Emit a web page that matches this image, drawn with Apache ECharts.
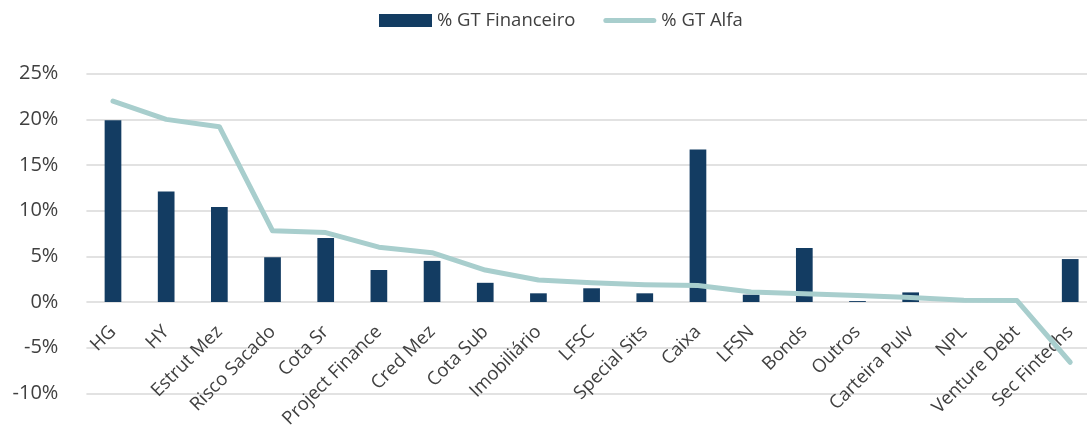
<!DOCTYPE html>
<html>
<head>
<meta charset="utf-8">
<script src="https://cdn.jsdelivr.net/npm/echarts@6/dist/echarts.min.js"></script>
<style>
  html, body { margin: 0; padding: 0; background: #ffffff; }
  #chart { width: 1087px; height: 430px; }
</style>
</head>
<body>
<div id="chart"></div>
<script>
// Strategy categories
const categories = [
  'HG', 'HY', 'Estrut Mez', 'Risco Sacado', 'Cota Sr', 'Project Finance',
  'Cred Mez', 'Cota Sub', 'Imobiliário', 'LFSC', 'Special Sits', 'Caixa',
  'LFSN', 'Bonds', 'Outros', 'Carteira Pulv', 'NPL', 'Venture Debt', 'Sec Fintechs'
];

// % GT Financeiro (bars), in percent
const gtFinanceiro = [
  19.9, 12.1, 10.4, 4.9, 7.0, 3.5,
  4.5, 2.1, 0.95, 1.5, 0.95, 16.7,
  0.8, 5.9, 0.1, 1.05, 0.0, 0.0, 4.7
];

// % GT Alfa (line), in percent
const gtAlfa = [
  22.0, 20.0, 19.2, 7.8, 7.6, 6.0,
  5.4, 3.5, 2.4, 2.1, 1.9, 1.8,
  1.1, 0.9, 0.7, 0.5, 0.2, 0.15, -6.6
];

// Value axis ticks
const yTicks = { min: -10, max: 25, interval: 5 };

const fontFamily = '"Open Sans", Lato, "Noto Sans", sans-serif';
const textColor = '#404040';
const gridColor = '#d9d9d9';
const barColor = '#133c62';
const lineColor = '#a8cecd';

const gridTop = 73.7;
const gridBottom = 36.7;
const chartHeight = 430;

const chart = echarts.init(document.getElementById('chart'), null, { renderer: 'canvas' });

// Category labels hang from the zero line rather than the bottom of the plot
const plotHeight = chartHeight - gridTop - gridBottom;
const zeroOffset = plotHeight * (0 - yTicks.min) / (yTicks.max - yTicks.min);

chart.setOption({
  animation: false,
  backgroundColor: '#ffffff',
  textStyle: { fontFamily: fontFamily, color: textColor },
  legend: {
    top: 6,
    left: 374,
    itemGap: 28,
    itemWidth: 53,
    itemHeight: 13,
    textStyle: { fontFamily: fontFamily, fontSize: 18.5, color: textColor },
    data: [
      { name: '% GT Financeiro', icon: 'rect' },
      {
        name: '% GT Alfa',
        icon: 'path://M2.5,0 L50.5,0 A2.5,2.5 0 0 1 50.5,5 L2.5,5 A2.5,2.5 0 0 1 2.5,0 Z'
      }
    ]
  },
  grid: {
    left: 86.4,
    right: -9.8,
    top: gridTop,
    bottom: gridBottom,
    containLabel: false,
    outerBoundsMode: 'none'
  },
  xAxis: {
    type: 'category',
    data: categories,
    offset: -zeroOffset,
    axisLine: { show: false, onZero: false },
    axisTick: { show: false },
    axisLabel: {
      rotate: 45,
      margin: 27,
      interval: 0,
      fontFamily: fontFamily,
      fontSize: 18.5,
      color: textColor
    }
  },
  yAxis: {
    type: 'value',
    min: yTicks.min,
    max: yTicks.max,
    interval: yTicks.interval,
    axisLine: { show: false },
    axisTick: { show: false },
    axisLabel: {
      margin: 28,
      fontFamily: fontFamily,
      fontSize: 20,
      color: textColor,
      formatter: function (v) { return (v < 0 ? '-' : '') + Math.abs(v) + '%'; }
    },
    splitLine: { lineStyle: { color: gridColor, width: 1.5 } }
  },
  series: [
    {
      name: '% GT Financeiro',
      type: 'bar',
      data: gtFinanceiro,
      barWidth: '31.4%',
      itemStyle: { color: barColor }
    },
    {
      name: '% GT Alfa',
      type: 'line',
      data: gtAlfa,
      symbol: 'none',
      smooth: false,
      lineStyle: { color: lineColor, width: 5, cap: 'round', join: 'round' },
      itemStyle: { color: lineColor }
    }
  ]
});
</script>
</body>
</html>
